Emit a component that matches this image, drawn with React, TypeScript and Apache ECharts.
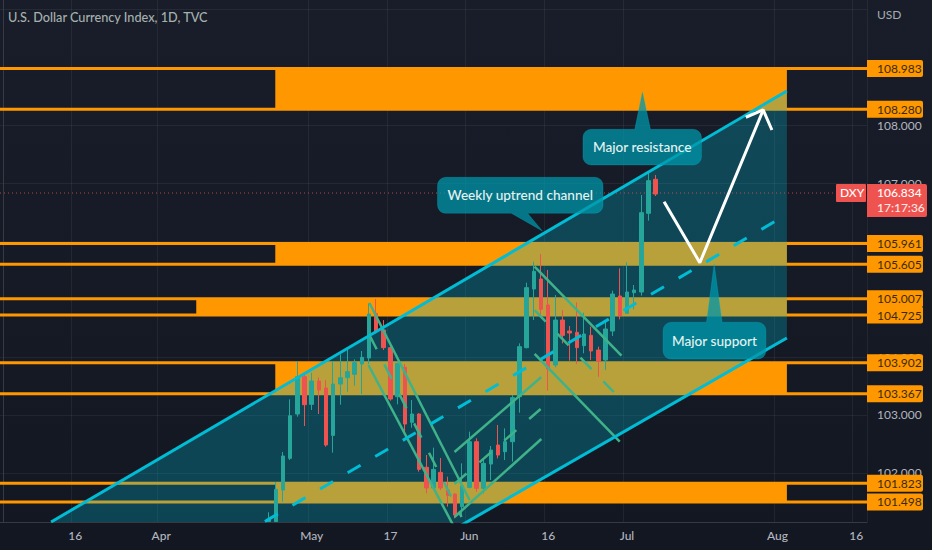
import { useEffect, useRef } from "react";
import * as echarts from "echarts";

const BAR_COUNT = 121;
const FIRST_CANDLE = 37;
const FONT = 'Lato, "Noto Sans", sans-serif';

// bar index -> time axis label
const timeTicks: Record<number, string> = {
  10: "16",
  22: "Apr",
  43: "May",
  54: "17",
  65: "Jun",
  76: "16",
  87: "Jul",
  108: "Aug",
  119: "16",
};
const categories = Array.from({ length: BAR_COUNT }, (_, i) => timeTicks[i] ?? "");

const opens = [
  101.16, 101.16, 101.704, 102.251, 103.017, 103.662, 103.184, 103.587, 103.466, 102.648, 103.535, 103.644, 103.702,
  103.881, 103.984, 104.756, 104.468, 104.163, 103.316, 103.823, 102.873, 103.017, 102.096, 101.739, 102.009, 101.704,
  101.635, 101.416, 101.75, 102.539, 101.733, 102.153, 102.481, 102.366, 102.539, 103.316, 104.163, 105.176, 105.348,
  104.899, 103.863, 104.64, 104.45, 104.427, 104.197, 104.375, 104.122, 103.949, 104.45, 105.055, 104.755, 105.112,
  105.124, 106.483, 107.07,
];
const closes = [
  101.2, 101.716, 102.292, 102.988, 103.662, 103.178, 103.587, 103.431, 102.482, 103.535, 103.644, 103.748, 103.904,
  103.996, 104.744, 104.439, 104.163, 103.276, 103.892, 102.844, 103.017, 102.061, 101.739, 102.061, 101.739, 101.612,
  101.273, 101.773, 102.539, 101.733, 102.165, 102.395, 102.309, 102.539, 103.299, 104.18, 105.199, 105.481, 104.825,
  103.794, 104.64, 104.375, 104.416, 104.163, 104.399, 104.105, 103.932, 104.485, 105.089, 104.715, 105.124, 105.158,
  106.494, 107.047, 106.816,
];
const lows = [
  101.16, 101.16, 101.503, 102.222, 102.971, 102.81, 103.086, 103.017, 102.453, 102.349, 103.178, 103.403, 103.506,
  103.362, 103.881, 104.41, 104.122, 103.247, 103.184, 102.654, 102.781, 102.021, 101.647, 101.733, 101.704, 101.416,
  101.215, 101.244, 101.733, 101.675, 101.647, 101.877, 102.251, 102.222, 102.194, 103.04, 104.151, 104.64, 104.698,
  103.42, 103.823, 104.237, 103.938, 103.88, 104.065, 103.949, 103.662, 103.777, 104.364, 104.652, 104.744, 104.825,
  105.061, 106.356, 106.782,
];
const highs = [
  101.32, 101.843, 102.361, 103.27, 103.932, 103.7, 103.731, 103.65, 103.604, 103.932, 104.047, 104.122, 103.961,
  104.105, 104.928, 105.003, 104.64, 104.226, 103.9, 103.881, 103.259, 103.03, 102.309, 102.436, 102.257, 101.935,
  101.647, 102.165, 102.712, 102.597, 102.222, 102.464, 102.827, 102.769, 103.345, 104.237, 105.285, 105.648, 105.78,
  105.504, 105.072, 104.813, 104.537, 104.945, 104.767, 104.525, 104.18, 104.64, 105.147, 105.533, 105.636, 105.245,
  106.799, 107.202, 107.145,
];

const levels = [108.983, 108.28, 105.961, 105.605, 105.007, 104.725, 103.902, 103.367, 101.823, 101.498];
const zoneTops = [108.983, 105.961, 105.007, 103.902, 101.823];
const zoneBottoms = [108.28, 105.605, 104.725, 103.367, 101.498];
const zoneStarts = [37.92, 37.92, 26.89, 37.92, 37.92];
const zoneEnd = 109.32;

const gridPrices = [110, 109, 108, 107, 106, 105, 104, 103, 102];
const labelPrices = [108, 107, 104, 103, 102];
const lastPrice = 106.834;

// [bar, price] pairs
const channelTop = [[6.63, 101.152], [109.32, 108.596]];
const channelBottom = [[62.24, 100.98], [109.32, 104.33]];
const channelMid = [[36.47, 101.161], [107.64, 106.342]];

const greenSolid = [
  [[51.06, 104.934], [65.03, 101.532]],
  [[50.92, 103.864], [63.91, 100.824]],
  [[62.93, 102.361], [75.05, 103.656]],
  [[62.93, 101.238], [75.05, 102.585]],
  [[74.11, 105.561], [86.23, 104.024]],
  [[74.11, 104.054], [85.99, 102.539]],
];
const greenDashed = [
  [[51.06, 104.382], [63.91, 101.238]],
  [[62.93, 101.808], [74.95, 103.104]],
  [[74.11, 104.813], [85.15, 103.397]],
];
const arrowBody = [[92.18, 106.684], [97.17, 105.63], [106.01, 108.268]];
const arrowHead = [[103.59, 108.142], [106.01, 108.268], [107.23, 107.922]];

const callouts = [
  { text: "Major resistance", left: 80.86, right: 97.4, top: 107.934, bottom: 107.318, tip: [89.16, 108.584], base: [88.09, 90.28] },
  { text: "Weekly uptrend channel", left: 60.56, right: 83.66, top: 107.105, bottom: 106.484, tip: [75.19, 106.178], base: [70.86, 73.13] },
  { text: "Major support", left: 92.04, right: 106.39, top: 104.601, bottom: 103.967, tip: [99.17, 105.608], base: [98.1, 100.28] },
];

const ORANGE = "#ff9800";
const CYAN = "#00bcd4";
const GREEN = "#3fb28a";
const RED = "#ef5350";

const lineSeries = (data: number[][], color: string, width: number, z: number, type: any = "solid") => ({
  type: "line",
  xAxisIndex: 1,
  yAxisIndex: 0,
  data,
  z,
  symbol: "none",
  silent: true,
  lineStyle: { color, width, type, cap: "butt" },
});

// corner points of a rounded box with the pointer cut into its top or bottom edge
const calloutPoints = (api: any, c: (typeof callouts)[number]) => {
  const [x0, y0] = api.coord([c.left, c.top]);
  const [x1, y1] = api.coord([c.right, c.bottom]);
  const tip = api.coord(c.tip);
  const [b0] = api.coord([c.base[0], c.top]);
  const [b1] = api.coord([c.base[1], c.top]);
  const r = 8;
  const arc = (cx: number, cy: number, from: number) =>
    [0, 1, 2, 3, 4].map((k) => {
      const a = from + (k * Math.PI) / 8;
      return [cx + r * Math.cos(a), cy + r * Math.sin(a)];
    });
  const pts: number[][] = [];
  pts.push(...arc(x0 + r, y0 + r, Math.PI));
  if (tip[1] < y0) pts.push([b0, y0], tip, [b1, y0]);
  pts.push(...arc(x1 - r, y0 + r, -Math.PI / 2));
  pts.push(...arc(x1 - r, y1 - r, 0));
  if (tip[1] > y1) pts.push([b1, y1], tip, [b0, y1]);
  pts.push(...arc(x0 + r, y1 - r, Math.PI / 2));
  return pts;
};

const App = () => {
  const chartRef = useRef<HTMLDivElement>(null);

  useEffect(() => {
    if (!chartRef.current) return;
    document.body.style.margin = "0";

    const chart = echarts.init(chartRef.current, null, { renderer: "svg" });

    const option: any = {
      animation: false,
      backgroundColor: new echarts.graphic.LinearGradient(0, 0, 0, 1, [
        { offset: 0, color: "#191d29" },
        { offset: 1, color: "#131722" },
      ]),
      title: {
        text: "U.S. Dollar Currency Index, 1D, TVC",
        left: 8,
        top: 10,
        padding: 0,
        textStyle: { color: "#a5b1ae", fontSize: 12.7, fontWeight: 500, fontFamily: FONT },
      },
      grid: { left: 0, right: 65, top: 0, bottom: 28 },
      xAxis: [
        {
          type: "category",
          data: categories,
          boundaryGap: true,
          axisLine: { lineStyle: { color: "#363a45" } },
          axisTick: { show: false },
          axisLabel: {
            color: "#b2b5be",
            fontSize: 12,
            fontWeight: 500,
            fontFamily: FONT,
            margin: 7,
            interval: (_i: number, v: string) => v !== "",
          },
          splitLine: {
            show: true,
            interval: (_i: number, v: string) => v !== "",
            lineStyle: { color: "rgba(255,255,255,0.06)" },
          },
        },
        { type: "value", min: -0.5, max: BAR_COUNT - 0.5, show: false, splitLine: { show: false } },
      ],
      yAxis: {
        type: "value",
        position: "right",
        min: 101.152,
        max: 110.167,
        axisLine: { show: true, lineStyle: { color: "#363a45" } },
        axisTick: { show: false, customValues: gridPrices },
        axisLabel: {
          customValues: labelPrices,
          color: "#b2b5be",
          fontSize: 12,
          fontFamily: FONT,
          margin: 10,
          formatter: (v: number) => v.toFixed(3),
        },
        splitLine: { show: true, lineStyle: { color: "rgba(255,255,255,0.06)" } },
      },
      graphic: [
        {
          type: "text",
          x: 877,
          y: 8,
          style: { text: "USD", fill: "#a5abb0", font: `12px ${FONT}` },
        },
      ],
      series: [
        // orange zones
        {
          type: "custom",
          xAxisIndex: 1,
          z: 1,
          silent: true,
          data: zoneTops.map((t, i) => [zoneStarts[i], t, zoneBottoms[i]]),
          renderItem: (_p: any, api: any) => {
            const a = api.coord([api.value(0), api.value(1)]);
            const b = api.coord([zoneEnd, api.value(2)]);
            return {
              type: "rect",
              shape: { x: a[0], y: a[1], width: b[0] - a[0], height: b[1] - a[1] },
              style: { fill: ORANGE },
            };
          },
        },
        ...levels.map((p) => lineSeries([[-0.5, p], [BAR_COUNT - 0.5, p]], ORANGE, 3, 1)),
        // channel fill
        {
          type: "custom",
          xAxisIndex: 1,
          z: 2,
          clip: true,
          silent: true,
          data: [[0]],
          renderItem: (_p: any, api: any) => ({
            type: "polygon",
            shape: {
              points: [channelTop[0], channelTop[1], channelBottom[1], channelBottom[0]].map((d) => api.coord(d)),
            },
            style: { fill: "rgba(0,188,212,0.28)" },
          }),
        },
        {
          type: "candlestick",
          xAxisIndex: 0,
          yAxisIndex: 0,
          z: 3,
          barWidth: 4,
          clip: true,
          silent: true,
          data: categories.map((_c, i) => {
            const k = i - FIRST_CANDLE;
            return k >= 0 && k < opens.length ? [opens[k], closes[k], lows[k], highs[k]] : "-";
          }),
          itemStyle: { color: "#26a69a", color0: RED, borderColor: "#26a69a", borderColor0: RED, borderWidth: 1 },
        },
        {
          ...lineSeries([[-0.5, lastPrice], [BAR_COUNT - 0.5, lastPrice]], RED, 1, 3, [1, 3]),
          lineStyle: { color: RED, width: 1, type: [1, 3], opacity: 0.75 },
        },
        ...greenSolid.map((l) => lineSeries(l, GREEN, 2.5, 4)),
        ...greenDashed.map((l) => lineSeries(l, GREEN, 2.5, 4, [16, 17])),
        lineSeries(channelTop, CYAN, 3, 5),
        lineSeries(channelBottom, CYAN, 3, 5),
        lineSeries(channelMid, CYAN, 3, 5, [15, 17]),
        lineSeries(arrowBody, "#ffffff", 3, 5),
        lineSeries(arrowHead, "#ffffff", 3, 5),
        // callouts
        {
          type: "custom",
          xAxisIndex: 1,
          z: 6,
          silent: true,
          data: callouts.map((_c, i) => [i]),
          renderItem: (_p: any, api: any) => {
            const c = callouts[api.value(0)];
            const [x, y] = api.coord([(c.left + c.right) / 2, (c.top + c.bottom) / 2]);
            return {
              type: "group",
              children: [
                {
                  type: "polygon",
                  shape: { points: calloutPoints(api, c) },
                  style: { fill: "rgba(0,150,170,0.75)", stroke: "rgba(0,188,212,0.25)", lineWidth: 1 },
                },
                {
                  type: "text",
                  style: {
                    x,
                    y,
                    text: c.text,
                    fill: "#e4f3f1",
                    font: `500 13.6px ${FONT}`,
                    align: "center",
                    verticalAlign: "middle",
                  },
                },
              ],
            };
          },
        },
        // orange price tags
        {
          type: "custom",
          xAxisIndex: 1,
          z: 7,
          silent: true,
          data: levels.map((p) => [BAR_COUNT - 0.5, p]),
          renderItem: (_p: any, api: any) => {
            const [x, y] = api.coord([api.value(0), api.value(1)]);
            return {
              type: "group",
              children: [
                {
                  type: "rect",
                  shape: { x, y: y - 8.5, width: 56, height: 17, r: [0, 2, 2, 0] },
                  style: { fill: ORANGE },
                },
                {
                  type: "text",
                  style: {
                    x: x + 10,
                    y,
                    text: api.value(1).toFixed(3),
                    fill: "#3a2a0c",
                    font: `12px ${FONT}`,
                    align: "left",
                    verticalAlign: "middle",
                  },
                },
              ],
            };
          },
        },
        // last price tag
        {
          type: "custom",
          xAxisIndex: 1,
          z: 8,
          silent: true,
          data: [[BAR_COUNT - 0.5, lastPrice]],
          renderItem: (_p: any, api: any) => {
            const [x, y] = api.coord([api.value(0), api.value(1)]);
            const text = (t: string, tx: number, ty: number, fill: string) => ({
              type: "text",
              style: { x: tx, y: ty, text: t, fill, font: `500 12px ${FONT}`, align: "left", verticalAlign: "middle" },
            });
            return {
              type: "group",
              children: [
                { type: "rect", shape: { x: x - 31, y: y - 9, width: 30, height: 18, r: 1 }, style: { fill: RED } },
                { type: "rect", shape: { x, y: y - 9, width: 60, height: 33, r: [0, 2, 2, 0] }, style: { fill: RED } },
                text("DXY", x - 27, y, "#ffffff"),
                text(api.value(1).toFixed(3), x + 10, y, "#ffffff"),
                text("17:17:36", x + 10, y + 15, "#ffe9e6"),
              ],
            };
          },
        },
      ],
    };

    chart.setOption(option);

    return () => {
      chart.dispose();
    };
  }, []);

  return <div ref={chartRef} style={{ width: 932, height: 550 }} />;
};

export default App;
